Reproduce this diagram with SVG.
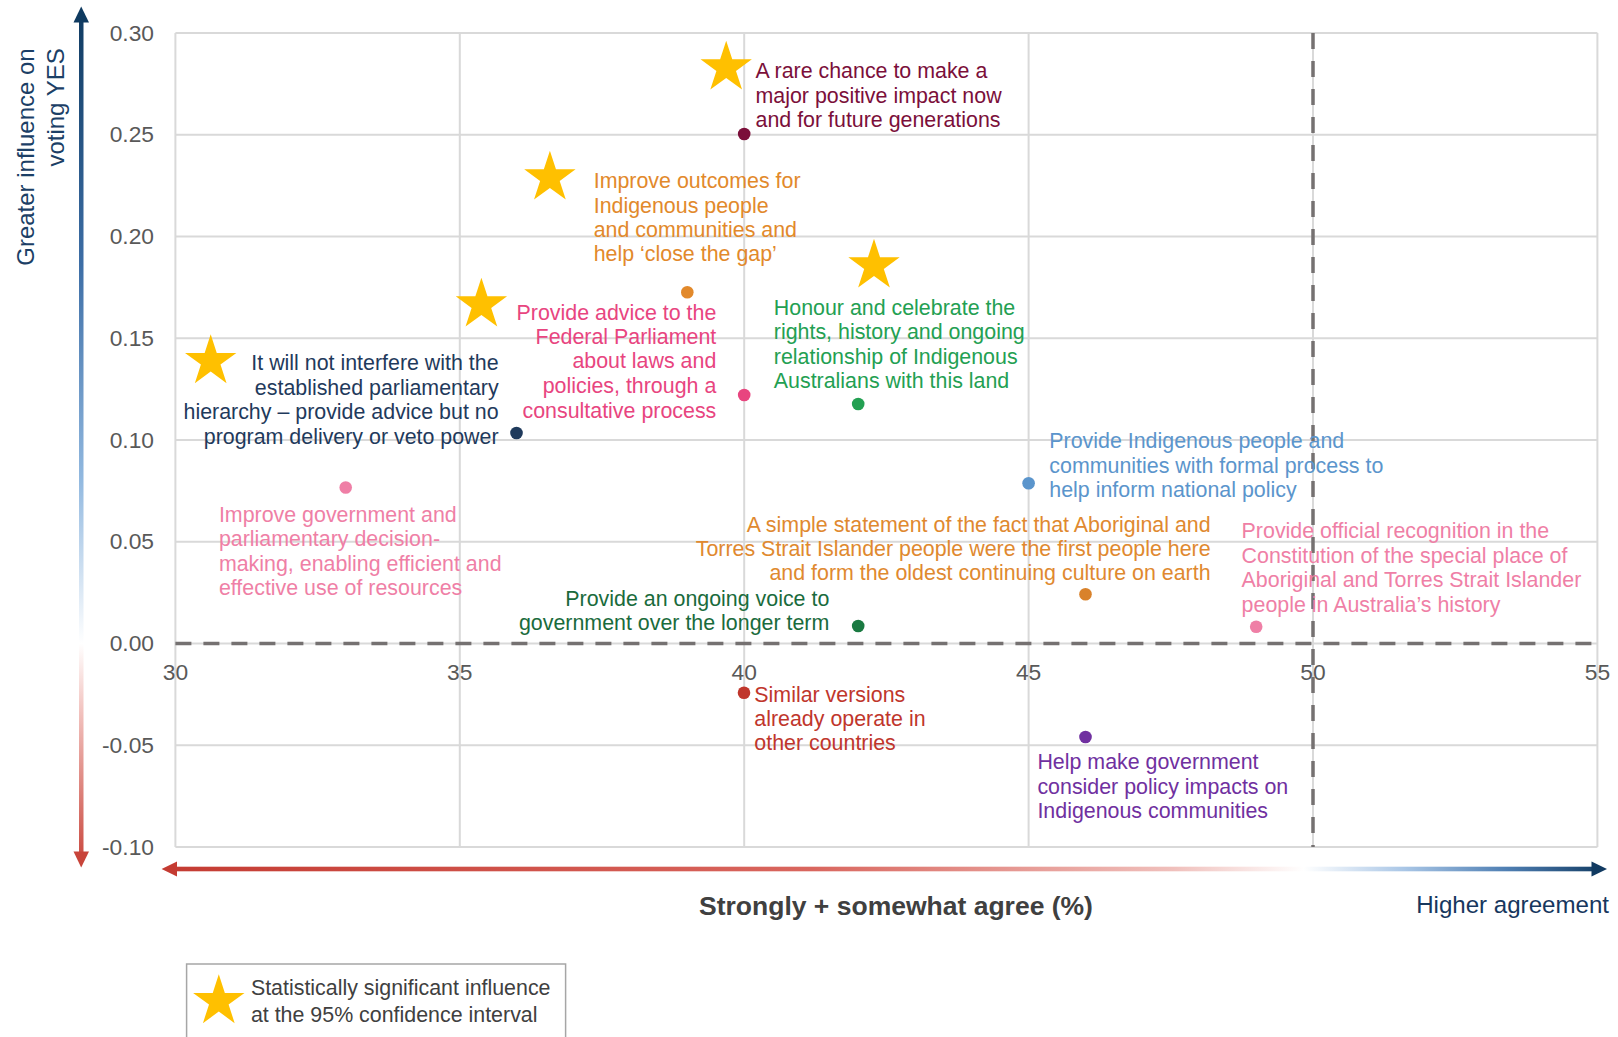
<svg xmlns="http://www.w3.org/2000/svg" xmlns:xlink="http://www.w3.org/1999/xlink" width="1618" height="1037" viewBox="0 0 1618 1037">
<defs>
<style>
text{font-family:"Liberation Sans",Arial,sans-serif;}
.tick{font-size:22.8px;fill:#595959;}
.lbl{font-size:21.4px;}
.grid{stroke:#d9d9d9;stroke-width:2;fill:none;}
.dash{stroke:#757171;stroke-width:3.5;stroke-dasharray:16 12;fill:none;}
.star{fill:#ffc000;}
</style>
<path id="star" d="M0,-27 L6.054,-8.333 L25.68,-8.343 L9.796,3.183 L15.87,21.84 L0,10.3 L-15.87,21.84 L-9.796,3.183 L-25.68,-8.343 L-6.054,-8.333 Z"/>
<linearGradient id="vgrad" gradientUnits="userSpaceOnUse" x1="0" y1="7" x2="0" y2="867">
<stop offset="0" stop-color="#0f3a60"/>
<stop offset="0.3" stop-color="#3d6ea6"/>
<stop offset="0.55" stop-color="#92b9e0"/>
<stop offset="0.74" stop-color="#ffffff"/>
<stop offset="0.82" stop-color="#f2c2be"/>
<stop offset="1" stop-color="#c8443a"/>
</linearGradient>
<linearGradient id="hgrad" gradientUnits="userSpaceOnUse" x1="162" y1="0" x2="1607" y2="0">
<stop offset="0" stop-color="#c43b32"/>
<stop offset="0.45" stop-color="#d9665e"/>
<stop offset="0.7" stop-color="#f0c0bc"/>
<stop offset="0.79" stop-color="#ffffff"/>
<stop offset="0.86" stop-color="#a9c6e6"/>
<stop offset="0.93" stop-color="#4f7fb3"/>
<stop offset="1" stop-color="#113a61"/>
</linearGradient>
</defs>
<rect width="1618" height="1037" fill="#ffffff"/>

<g id="gridlines">
<line class="grid" x1="175.4" y1="33" x2="1597.4" y2="33"/>
<line class="grid" x1="175.4" y1="134.75" x2="1597.4" y2="134.75"/>
<line class="grid" x1="175.4" y1="236.5" x2="1597.4" y2="236.5"/>
<line class="grid" x1="175.4" y1="338.25" x2="1597.4" y2="338.25"/>
<line class="grid" x1="175.4" y1="440" x2="1597.4" y2="440"/>
<line class="grid" x1="175.4" y1="541.75" x2="1597.4" y2="541.75"/>
<line class="grid" x1="175.4" y1="643.5" x2="1597.4" y2="643.5"/>
<line class="grid" x1="175.4" y1="745.25" x2="1597.4" y2="745.25"/>
<line class="grid" x1="175.4" y1="847" x2="1597.4" y2="847"/>
<line class="grid" x1="175.4" y1="33" x2="175.4" y2="847"/>
<line class="grid" x1="459.8" y1="33" x2="459.8" y2="847"/>
<line class="grid" x1="744.2" y1="33" x2="744.2" y2="847"/>
<line class="grid" x1="1028.6" y1="33" x2="1028.6" y2="847"/>
<line class="grid" x1="1313" y1="33" x2="1313" y2="847"/>
<line class="grid" x1="1597.4" y1="33" x2="1597.4" y2="847"/>
</g>

<g id="axis-ticks">
<text class="tick" x="154" y="40.7" text-anchor="end">0.30</text>
<text class="tick" x="154" y="142.4" text-anchor="end">0.25</text>
<text class="tick" x="154" y="244.2" text-anchor="end">0.20</text>
<text class="tick" x="154" y="345.9" text-anchor="end">0.15</text>
<text class="tick" x="154" y="447.7" text-anchor="end">0.10</text>
<text class="tick" x="154" y="549.4" text-anchor="end">0.05</text>
<text class="tick" x="154" y="651.2" text-anchor="end">0.00</text>
<text class="tick" x="154" y="752.9" text-anchor="end">-0.05</text>
<text class="tick" x="154" y="854.7" text-anchor="end">-0.10</text>
<text class="tick" x="175.4" y="680" text-anchor="middle">30</text>
<text class="tick" x="459.8" y="680" text-anchor="middle">35</text>
<text class="tick" x="744.2" y="680" text-anchor="middle">40</text>
<text class="tick" x="1028.6" y="680" text-anchor="middle">45</text>
<text class="tick" x="1313" y="680" text-anchor="middle">50</text>
<text class="tick" x="1597.4" y="680" text-anchor="middle">55</text>
</g>

<g id="reference-lines">
<line class="dash" x1="175.4" y1="643.5" x2="1597.4" y2="643.5"/>
<line class="dash" x1="1313" y1="33" x2="1313" y2="847"/>
</g>

<g id="axis-arrows">
<rect x="79" y="21" width="4.5" height="832" fill="url(#vgrad)"/>
<polygon points="81.2,6.5 73.5,22.5 89,22.5" fill="#0f3a60"/>
<polygon points="81.2,867.5 73.5,851.5 89,851.5" fill="#c8443a"/>
<rect x="175" y="866.7" width="1418" height="4.6" fill="url(#hgrad)"/>
<polygon points="161.6,869 177,861.5 177,876.5" fill="#c43b32"/>
<polygon points="1607,869 1591.5,861.5 1591.5,876.5" fill="#113a61"/>
</g>

<g id="axis-titles">
<text transform="translate(34,48.3) rotate(-90)" text-anchor="end" font-size="24" fill="#1c3f66">Greater influence on</text>
<text transform="translate(63.5,48.3) rotate(-90)" text-anchor="end" font-size="24" fill="#1c3f66">voting YES</text>
<text x="896" y="915" text-anchor="middle" font-size="26.5" font-weight="bold" fill="#404040">Strongly + somewhat agree (%)</text>
<text x="1609" y="913" text-anchor="end" font-size="24.1" fill="#17375e">Higher agreement</text>
</g>

<g id="node-rare-chance">
<use xlink:href="#star" class="star" x="726.2" y="67.7"/>
<circle cx="744.2" cy="134" r="6.3" fill="#7b0f3a"/>
<text class="lbl" fill="#7b0f3a"><tspan x="755.5" y="78.3">A rare chance to make a</tspan><tspan x="755.5" y="102.5">major positive impact now</tspan><tspan x="755.5" y="126.7">and for future generations</tspan></text>
</g>

<g id="node-improve-outcomes">
<use xlink:href="#star" class="star" x="549.9" y="177.7"/>
<circle cx="687.3" cy="292.3" r="6.3" fill="#e2892b"/>
<text class="lbl" fill="#e2892b"><tspan x="593.7" y="188.3">Improve outcomes for</tspan><tspan x="593.7" y="212.5">Indigenous people</tspan><tspan x="593.7" y="236.7">and communities and</tspan><tspan x="593.7" y="261">help ‘close the gap’</tspan></text>
</g>

<g id="node-provide-advice">
<use xlink:href="#star" class="star" x="481.4" y="304.7"/>
<circle cx="744.2" cy="395" r="6.3" fill="#e8457f"/>
<text class="lbl" fill="#e8457f" text-anchor="end"><tspan x="716.3" y="320">Provide advice to the</tspan><tspan x="716.3" y="344.2">Federal Parliament</tspan><tspan x="716.3" y="368.4">about laws and</tspan><tspan x="716.3" y="393">policies, through a</tspan><tspan x="716.3" y="417.5">consultative process</tspan></text>
</g>

<g id="node-honour">
<use xlink:href="#star" class="star" x="874" y="265.7"/>
<circle cx="858.2" cy="404" r="6.3" fill="#23a052"/>
<text class="lbl" fill="#23a052"><tspan x="773.8" y="315">Honour and celebrate the</tspan><tspan x="773.8" y="339.3">rights, history and ongoing</tspan><tspan x="773.8" y="363.5">relationship of Indigenous</tspan><tspan x="773.8" y="387.7">Australians with this land</tspan></text>
</g>

<g id="node-not-interfere">
<use xlink:href="#star" class="star" x="210.7" y="361.3"/>
<circle cx="516.5" cy="433" r="6.3" fill="#1f3a5c"/>
<text class="lbl" fill="#1f3a5c" text-anchor="end"><tspan x="498.6" y="370">It will not interfere with the</tspan><tspan x="498.6" y="394.5">established parliamentary</tspan><tspan x="498.6" y="419">hierarchy – provide advice but no</tspan><tspan x="498.6" y="443.8">program delivery or veto power</tspan></text>
</g>

<g id="node-improve-government">
<circle cx="345.7" cy="487.5" r="6.3" fill="#ef7fa6"/>
<text class="lbl" fill="#ef7fa6"><tspan x="218.9" y="521.7">Improve government and</tspan><tspan x="218.9" y="546">parliamentary decision-</tspan><tspan x="218.9" y="570.5">making, enabling efficient and</tspan><tspan x="218.9" y="595">effective use of resources</tspan></text>
</g>

<g id="node-formal-process">
<circle cx="1028.6" cy="483.3" r="6.3" fill="#5b95cc"/>
<text class="lbl" fill="#5b95cc"><tspan x="1049.3" y="448.3">Provide Indigenous people and</tspan><tspan x="1049.3" y="472.5">communities with formal process to</tspan><tspan x="1049.3" y="496.7">help inform national policy</tspan></text>
</g>

<g id="node-simple-statement">
<circle cx="1085.5" cy="594.3" r="6.3" fill="#d9822b"/>
<text class="lbl" fill="#e0892f" text-anchor="end"><tspan x="1210.6" y="532.3">A simple statement of the fact that Aboriginal and</tspan><tspan x="1210.6" y="556.3">Torres Strait Islander people were the first people here</tspan><tspan x="1210.6" y="580.3">and form the oldest continuing culture on earth</tspan></text>
</g>

<g id="node-official-recognition">
<circle cx="1256.2" cy="626.7" r="6.3" fill="#ef7fa6"/>
<text class="lbl" fill="#ef7fa6"><tspan x="1241.6" y="538.3">Provide official recognition in the</tspan><tspan x="1241.6" y="563">Constitution of the special place of</tspan><tspan x="1241.6" y="587.3">Aboriginal and Torres Strait Islander</tspan><tspan x="1241.6" y="611.7">people in Australia’s history</tspan></text>
</g>

<g id="node-ongoing-voice">
<circle cx="858.2" cy="626" r="6.3" fill="#1a7a42"/>
<text class="lbl" fill="#1a6b3c" text-anchor="end"><tspan x="829.3" y="606">Provide an ongoing voice to</tspan><tspan x="829.3" y="630">government over the longer term</tspan></text>
</g>

<g id="node-similar-versions">
<circle cx="744" cy="692.7" r="6.3" fill="#c0362c"/>
<text class="lbl" fill="#c0362c"><tspan x="754.3" y="701.7">Similar versions</tspan><tspan x="754.3" y="726">already operate in</tspan><tspan x="754.3" y="750">other countries</tspan></text>
</g>

<g id="node-policy-impacts">
<circle cx="1085.5" cy="737" r="6.3" fill="#7030a0"/>
<text class="lbl" fill="#7030a0"><tspan x="1037.4" y="769.3">Help make government</tspan><tspan x="1037.4" y="793.5">consider policy impacts on</tspan><tspan x="1037.4" y="817.7">Indigenous communities</tspan></text>
</g>

<g id="legend">
<rect x="186.6" y="964" width="379" height="100" fill="#ffffff" stroke="#a6a6a6" stroke-width="1.5"/>
<use xlink:href="#star" class="star" x="218.8" y="1001.3"/>
<text font-size="21.4" fill="#404040"><tspan x="250.9" y="995">Statistically significant influence</tspan><tspan x="250.9" y="1022.3">at the 95% confidence interval</tspan></text>
</g>
</svg>
